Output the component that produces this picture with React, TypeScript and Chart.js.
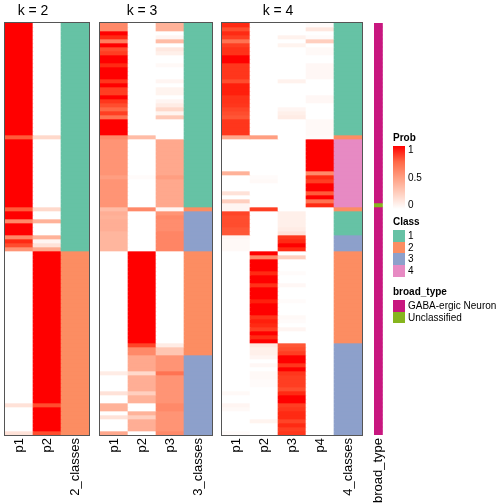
import React, { useEffect, useRef } from "react";
import { Chart, registerables } from "chart.js";
Chart.register(...registerables);

// ---------- data ----------
const k2Labels = ["p1", "p2", "2_classes"];
const k3Labels = ["p1", "p2", "p3", "3_classes"];
const k4Labels = ["p1", "p2", "p3", "p4", "4_classes"];
const broadLabels = ["broad_type"];
const classNames = ["1", "2", "3", "4"];
const broadTypeNames = ["GABA-ergic Neuron", "Unclassified"];
const probTicks = ["1", "0.5", "0"];

const k2P1 = [
  1,1,1,1,1,1,1,1,1,1,
  1,1,1,1,1,1,1,1,1,1,
  1,1,1,1,1,1,1,1,.8,1,
  1,1,1,1,1,1,1,1,1,1,
  1,1,1,1,1,1,.8,1,1,.6,
  1,1,1,.6,.95,.85,.55,0,0,0,
  0,0,0,0,0,0,0,0,0,0,
  0,0,0,0,0,0,0,0,0,0,
  0,0,0,0,0,0,0,0,0,0,
  0,0,0,0,0,.15,0,0,0,0,
  0,0,.15];
const k2P2 = [
  0,0,0,0,0,0,0,0,0,0,
  0,0,0,0,0,0,0,0,0,0,
  0,0,0,0,0,0,0,0,.2,0,
  0,0,0,0,0,0,0,0,0,0,
  0,0,0,0,0,0,.2,0,0,.4,
  0,0,0,.4,.05,.15,.45,1,1,1,
  1,1,1,1,1,1,1,1,1,1,
  1,1,1,1,1,1,1,1,1,1,
  1,1,1,1,1,1,1,1,1,1,
  1,1,1,1,1,.85,1,1,1,1,
  1,1,.85];
const k2Class = [
  1,1,1,1,1,1,1,1,1,1,
  1,1,1,1,1,1,1,1,1,1,
  1,1,1,1,1,1,1,1,1,1,
  1,1,1,1,1,1,1,1,1,1,
  1,1,1,1,1,1,1,1,1,1,
  1,1,1,1,1,1,1,2,2,2,
  2,2,2,2,2,2,2,2,2,2,
  2,2,2,2,2,2,2,2,2,2,
  2,2,2,2,2,2,2,2,2,2,
  2,2,2,2,2,2,2,2,2,2,
  2,2,2];

const k3P1 = [
  .6,.6,1,.95,.65,1,.85,.9,1,1,
  .95,1,1,1,.92,1,.9,.9,1,.92,
  .85,.75,.9,.7,1,1,1,1,.6,.55,
  .55,.55,.55,.55,.55,.55,.55,.55,.5,.55,
  .55,.55,.55,.55,.55,.55,.35,.42,.4,.42,
  .42,.42,.38,.38,.38,.38,.38,0,0,0,
  0,0,0,0,0,0,0,0,0,0,
  0,0,0,0,0,0,0,0,0,0,
  0,0,0,0,0,0,0,.1,0,0,
  0,0,.15,0,0,.4,.4,0,.15,0,
  0,0,.45];
const k3P2 = [
  0,0,0,0,0,0,0,0,0,0,
  0,0,0,0,0,0,0,0,0,0,
  0,0,0,0,0,0,0,0,.35,0,
  0,0,0,0,0,0,0,0,.02,0,
  0,0,0,0,0,0,.6,0,0,0,
  0,0,0,0,0,0,0,1,1,1,
  1,1,1,1,1,1,1,1,1,1,
  1,1,1,1,1,1,1,1,1,1,
  .88,.6,.6,.45,.45,.45,.45,.2,.42,.42,
  .42,.42,.25,.4,.4,0,0,.4,.25,.42,
  .42,.42,0];
const k3P3 = [
  .4,.4,0,.05,.35,0,.12,.08,0,0,
  .03,0,0,0,.05,0,.06,.06,0,.05,
  .1,.2,.06,.28,0,0,0,0,0,.45,
  .45,.45,.45,.45,.45,.45,.45,.45,.5,.45,
  .45,.45,.45,.45,.45,.45,.05,.55,.6,.58,
  .58,.58,.62,.62,.62,.62,.62,0,0,0,
  0,0,0,0,0,0,0,0,0,0,
  0,0,0,0,0,0,0,0,0,0,
  .1,.3,.3,.55,.55,.55,.55,.7,.55,.55,
  .55,.55,.55,.55,.55,.6,.6,.55,.55,.55,
  .55,.55,.6];
const k3Class = [
  1,1,1,1,1,1,1,1,1,1,
  1,1,1,1,1,1,1,1,1,1,
  1,1,1,1,1,1,1,1,1,1,
  1,1,1,1,1,1,1,1,1,1,
  1,1,1,1,1,1,2,3,3,3,
  3,3,3,3,3,3,3,2,2,2,
  2,2,2,2,2,2,2,2,2,2,
  2,2,2,2,2,2,2,2,2,2,
  2,2,2,3,3,3,3,3,3,3,
  3,3,3,3,3,3,3,3,3,3,
  3,3,3];

const k4P1 = [
  .95,.85,.95,.9,.7,.9,.93,.93,1,1,
  .92,.92,.92,.92,.85,.97,.97,.97,.93,.93,
  .92,.88,.85,.82,.92,.92,.92,.92,.45,0,
  0,0,0,0,0,0,0,.4,0,0,
  0,0,.15,0,.25,.05,.05,.88,.85,.85,
  .85,.82,.82,.05,.03,.03,.03,0,0,0,
  0,0,0,0,0,0,0,0,0,0,
  0,0,0,0,0,0,0,0,0,0,
  0,0,0,0,0,0,0,0,0,0,
  0,0,.03,0,0,.05,.03,0,0,0,
  0,0,.02];
const k4P2 = [
  0,0,0,0,0,0,0,0,0,0,
  0,0,0,0,0,0,0,0,0,0,
  0,0,0,0,0,0,0,0,.5,0,
  0,0,0,0,0,0,0,0,.02,.03,
  0,0,0,0,0,0,.9,0,0,0,
  0,0,0,0,0,0,0,1,.6,1,
  1,1,.95,1,1,.93,1,1,1,.97,
  1,1,1,.93,.97,.95,.9,1,.95,1,
  .12,.08,.08,.05,0,.04,0,.03,.03,.02,
  .02,0,0,0,0,0,0,0,0,.06,
  0,0,0];
const k4P3 = [
  0,0,0,.07,0,.06,0,0,0,0,
  0,0,0,0,.07,0,0,0,0,0,
  0,.05,.08,.1,0,0,0,0,0,0,
  0,0,0,0,0,0,0,0,0,0,
  0,0,0,0,0,0,0,.08,.08,.08,
  .08,.1,.15,.92,.95,1,.95,0,.25,0,
  0,0,.02,0,0,.04,0,0,0,.02,
  0,0,0,.03,.02,0,.05,0,0,0,
  .82,.85,.9,1,1,.92,1,.92,.9,.9,
  .9,.85,.95,1,1,.9,.92,.95,.95,.88,
  .95,.9,.92];
const k4P4 = [
  .02,.12,0,.02,.25,0,.03,.03,0,0,
  .04,.04,.04,.04,0,0,0,0,.04,.04,
  0,0,0,0,.03,.03,.03,.03,.02,1,
  1,1,1,1,1,1,1,.6,.95,.9,
  1,1,.8,1,.7,.95,0,0,0,0,
  0,0,0,0,0,0,0,0,0,0,
  0,0,0,0,0,0,0,0,0,0,
  0,0,0,0,0,0,0,0,0,0,
  0,0,0,0,0,0,0,0,0,0,
  0,0,0,0,0,0,0,0,0,0,
  0,0,0];
const k4Class = [
  1,1,1,1,1,1,1,1,1,1,
  1,1,1,1,1,1,1,1,1,1,
  1,1,1,1,1,1,1,1,2,4,
  4,4,4,4,4,4,4,4,4,4,
  4,4,4,4,4,4,2,1,1,1,
  1,1,1,3,3,3,3,2,2,2,
  2,2,2,2,2,2,2,2,2,2,
  2,2,2,2,2,2,2,2,2,2,
  3,3,3,3,3,3,3,3,3,3,
  3,3,3,3,3,3,3,3,3,3,
  3,3,3];
// index into broadTypeNames
const broadType = [
  0,0,0,0,0,0,0,0,0,0,
  0,0,0,0,0,0,0,0,0,0,
  0,0,0,0,0,0,0,0,0,0,
  0,0,0,0,0,0,0,0,0,0,
  0,0,0,0,0,1,0,0,0,0,
  0,0,0,0,0,0,0,0,0,0,
  0,0,0,0,0,0,0,0,0,0,
  0,0,0,0,0,0,0,0,0,0,
  0,0,0,0,0,0,0,0,0,0,
  0,0,0,0,0,0,0,0,0,0,
  0,0,0];

// ---------- styles ----------
const FONT = "'Liberation Sans', Arial, Helvetica, sans-serif";
const classColors = ["#66C2A5", "#FC8D62", "#8DA0CB", "#E78AC3"];
const broadColors = ["#C8177F", "#86B51E"];

function labToRgb(L: number, a: number, b: number) {
  const fy = (L + 16) / 116, fx = fy + a / 500, fz = fy - b / 200;
  const f = (t: number) => (t > 6 / 29 ? t * t * t : 3 * (6 / 29) ** 2 * (t - 4 / 29));
  const X = 0.95047 * f(fx), Y = f(fy), Z = 1.08883 * f(fz);
  const r = 3.2406 * X - 1.5372 * Y - 0.4986 * Z;
  const g = -0.9689 * X + 1.8758 * Y + 0.0415 * Z;
  const bb = 0.0557 * X - 0.204 * Y + 1.057 * Z;
  const gam = (c: number) => {
    c = Math.min(1, Math.max(0, c));
    return c <= 0.0031308 ? 12.92 * c : 1.055 * Math.pow(c, 1 / 2.4) - 0.055;
  };
  return `rgb(${Math.round(gam(r) * 255)},${Math.round(gam(g) * 255)},${Math.round(gam(bb) * 255)})`;
}
function probColor(v: number) {
  return labToRgb(100 + (53.24 - 100) * v, 80.09 * v, 67.2 * v);
}

const TOP = 23;
const BOTTOM = 435;
const H = 504;
const PAD = 20;

type PanelProps = {
  left: number;
  width: number;
  labels: string[];
  columns: string[][];
  border: boolean;
};

function HeatPanel({ left, width, labels, columns, border }: PanelProps) {
  const ref = useRef<HTMLCanvasElement>(null);
  useEffect(() => {
    const n = columns[0].length;
    const datasets = [] as any[];
    for (let r = 0; r < n; r++) {
      datasets.push({
        data: labels.map(() => 1),
        backgroundColor: columns.map((col) => col[r]),
        borderWidth: 0,
        barPercentage: 1,
        categoryPercentage: 1,
      });
    }
    const chart = new Chart(ref.current!, {
      type: "bar",
      data: { labels, datasets },
      options: {
        responsive: false,
        animation: false,
        layout: { padding: { left: PAD, right: PAD, top: TOP, bottom: 0 } },
        plugins: { legend: { display: false }, tooltip: { enabled: false }, title: { display: false } },
        scales: {
          x: {
            stacked: true,
            grid: { display: false, drawTicks: false },
            border: { display: false },
            ticks: {
              autoSkip: false,
              minRotation: 90,
              maxRotation: 90,
              padding: 3,
              color: "#000",
              font: { family: FONT, size: 13 },
            },
            afterFit: (s: any) => {
              s.height = H - BOTTOM;
            },
          },
          y: { stacked: true, display: false, min: 0, max: n, reverse: true },
        },
      },
      plugins: [
        {
          id: "frame",
          afterDatasetsDraw(c: any) {
            if (!border) return;
            const { left: l, top: t, width: w, height: h } = c.chartArea;
            const ctx = c.ctx;
            ctx.save();
            ctx.strokeStyle = "#555";
            ctx.lineWidth = 1;
            ctx.strokeRect(l - 0.5, t - 0.5, w + 1, h + 1);
            ctx.restore();
          },
        },
      ],
    } as any);
    return () => chart.destroy();
  }, []);
  return (
    <canvas
      ref={ref}
      width={width + 2 * PAD}
      height={H}
      style={{ position: "absolute", left: left - PAD, top: 0, width: width + 2 * PAD, height: H }}
    />
  );
}

function Title({ text, center }: { text: string; center: number }) {
  return (
    <div
      style={{
        position: "absolute",
        left: center - 40,
        width: 80,
        top: 2,
        textAlign: "center",
        font: `14px ${FONT}`,
        lineHeight: "16px",
        color: "#000",
      }}
    >
      {text}
    </div>
  );
}

function Legend() {
  const lbl = (top: number, text: string, bold = false, left = 408) => (
    <div
      key={text + top}
      style={{
        position: "absolute",
        left,
        top,
        font: `${bold ? "bold " : ""}10px ${FONT}`,
        lineHeight: "12px",
        color: "#000",
        whiteSpace: "nowrap",
      }}
    >
      {text}
    </div>
  );
  const stops = [1, 0.75, 0.5, 0.25, 0].map((v, i) => `${probColor(v)} ${i * 25}%`).join(",");
  const step = 11.7;
  return (
    <>
      {lbl(132, "Prob", true, 393)}
      <div
        style={{
          position: "absolute",
          left: 393,
          top: 146,
          width: 12,
          height: 63,
          background: `linear-gradient(to bottom, ${stops})`,
        }}
      />
      {lbl(144, probTicks[0])}
      {lbl(172, probTicks[1])}
      {lbl(199, probTicks[2])}
      {lbl(216, "Class", true, 393)}
      {classNames.map((c, i) => (
        <React.Fragment key={c}>
          <div
            style={{
              position: "absolute",
              left: 393,
              top: 230 + i * step,
              width: 12,
              height: step,
              background: classColors[i],
            }}
          />
          {lbl(230 + i * step + step / 2 - 6, c)}
        </React.Fragment>
      ))}
      {lbl(286, "broad_type", true, 393)}
      {broadTypeNames.map((c, i) => (
        <React.Fragment key={c}>
          <div
            style={{
              position: "absolute",
              left: 393,
              top: 300 + i * step,
              width: 12,
              height: step,
              background: broadColors[i],
            }}
          />
          {lbl(300 + i * step + step / 2 - 6, c)}
        </React.Fragment>
      ))}
    </>
  );
}

export default function App() {
  const pc = (arr: number[]) => arr.map(probColor);
  const cc = (arr: number[]) => arr.map((k) => classColors[k - 1]);
  return (
    <div style={{ position: "absolute", left: 0, top: 0, width: 504, height: 504, background: "#fff" }}>
      <HeatPanel left={5} width={84} labels={k2Labels} columns={[pc(k2P1), pc(k2P2), cc(k2Class)]} border />
      <HeatPanel
        left={100}
        width={112}
        labels={k3Labels}
        columns={[pc(k3P1), pc(k3P2), pc(k3P3), cc(k3Class)]}
        border
      />
      <HeatPanel
        left={222}
        width={140}
        labels={k4Labels}
        columns={[pc(k4P1), pc(k4P2), pc(k4P3), pc(k4P4), cc(k4Class)]}
        border
      />
      <HeatPanel
        left={374}
        width={13}
        labels={broadLabels}
        columns={[broadType.map((b) => broadColors[b])]}
        border={false}
      />
      <Title text="k = 2" center={33} />
      <Title text="k = 3" center={142} />
      <Title text="k = 4" center={278} />
      <Legend />
    </div>
  );
}
